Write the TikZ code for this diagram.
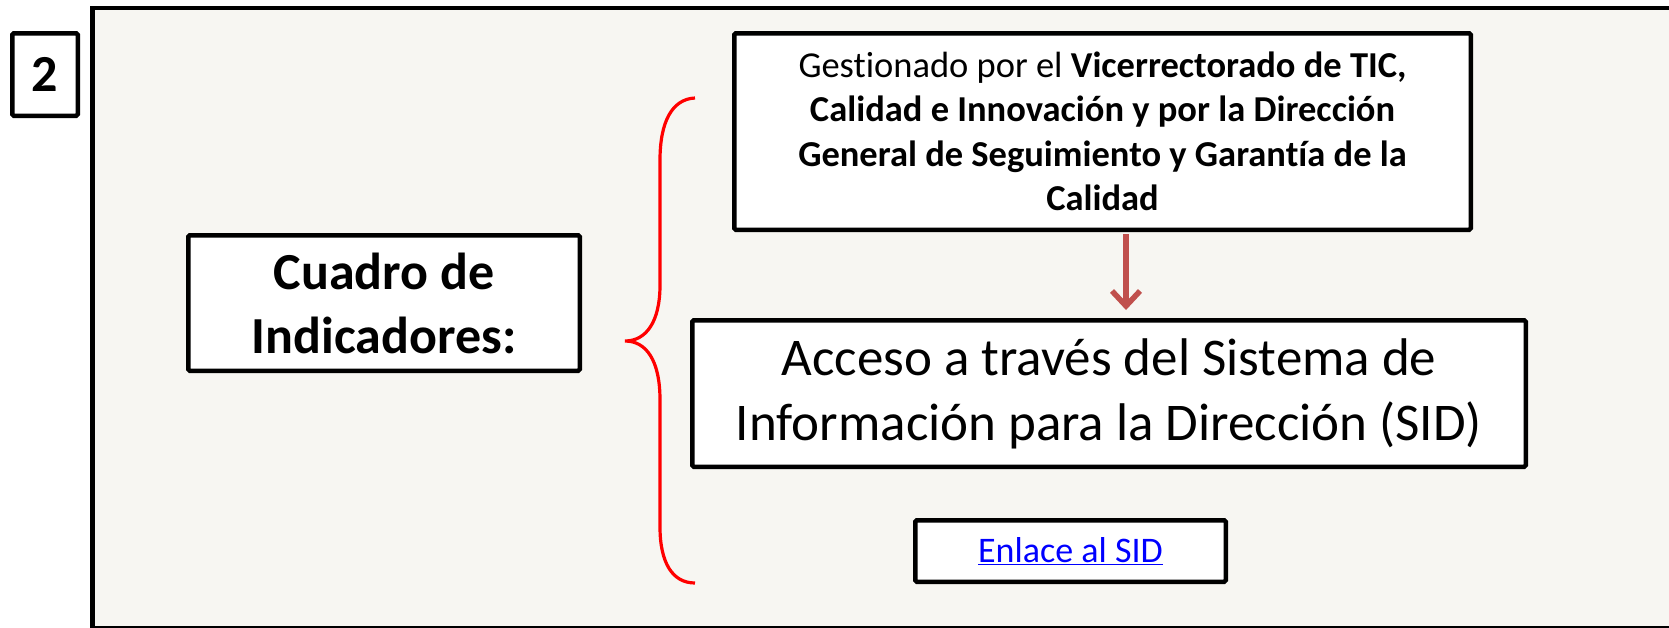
\documentclass[tikz,border=0pt]{standalone}
\usepackage{fontspec}
\setmainfont{Carlito}[Ligatures=NoCommon]
\usetikzlibrary{arrows.meta,calc}
\definecolor{bgc}{HTML}{F7F6F2}
\definecolor{arrc}{HTML}{C0504D}
\definecolor{linkc}{HTML}{0000FF}
\begin{document}
\begin{tikzpicture}[x=1pt,y=-1pt,
  box/.style={draw, line width=4.5pt, fill=white, rounded corners=1.5pt, inner sep=0pt, align=center},
  bigbold/.style={font=\fontsize{52}{64}\selectfont\bfseries},
  brace/.style={draw=red, line width=3.2pt},
  arr/.style={draw=arrc, line width=5.5pt, -{Straight Barb[length=15pt,width=28pt,line width=5.5pt]}}]
\useasboundingbox (0,0) rectangle (1669,627);
\clip (0,0) rectangle (1669,627);
\fill[white] (0,0) rectangle (1669,627);
\draw[line width=4.5pt, fill=bgc] (92.5,8) rectangle (1700,628);

\node[box, bigbold, minimum width=65.5pt, minimum height=82.5pt] (num) at (45,74.5) {2};
\node[box, bigbold, minimum width=391.5pt, minimum height=135.5pt] (cuadro) at (384,303) {Cuadro de\\Indicadores:};
\node[box, minimum width=736.5pt, minimum height=196.5pt, font=\fontsize{36.5}{44.5}\selectfont] (gest) at (1102.5,131.5)
  {Gestionado por el \textbf{Vicerrectorado de TIC,}\\ \textbf{Calidad e Innovación y por la Dirección}\\ \textbf{General de Seguimiento y Garantía de la}\\ \textbf{Calidad}};
\node[box, minimum width=833.5pt, minimum height=146.5pt, font=\fontsize{53}{65}\selectfont] (sid) at (1109,393.5)
  {Acceso a través del Sistema de\\Información para la Dirección (SID)};
\node[box, minimum width=310.5pt, minimum height=61.5pt, font=\fontsize{36}{44}\selectfont, text=linkc] (enl) at (1070.5,551)
  {\underline{Enlace al SID}};

\coordinate (ax) at (1126,0);
\draw[arr] ($(gest.south -| ax)+(0,2.25)$) -- ($(sid.north -| ax)+(0,-8)$);

\draw[brace] (695,98) .. controls (672,99) and (660,122) .. (660,160) -- (660,285)
  .. controls (660,322) and (646,341) .. (625,341)
  .. controls (646,341) and (660,360) .. (660,400) -- (660,527)
  .. controls (660,562) and (672,583) .. (695,583);
\end{tikzpicture}
\end{document}
